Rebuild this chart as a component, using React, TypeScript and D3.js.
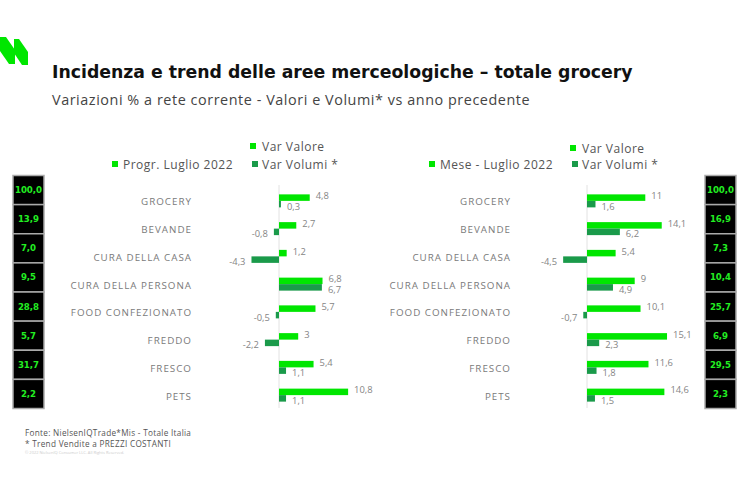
import * as d3 from "d3";
import { useEffect } from "react";

const categories = [
  "GROCERY",
  "BEVANDE",
  "CURA DELLA CASA",
  "CURA DELLA PERSONA",
  "FOOD CONFEZIONATO",
  "FREDDO",
  "FRESCO",
  "PETS",
];

// Progr. Luglio 2022
const progrValore = [4.8, 2.7, 1.2, 6.8, 5.7, 3, 5.4, 10.8];
const progrVolumi = [0.3, -0.8, -4.3, 6.7, -0.5, -2.2, 1.1, 1.1];
const progrQuota = [100.0, 13.9, 7.0, 9.5, 28.8, 5.7, 31.7, 2.2];

// Mese - Luglio 2022
const meseValore = [11, 14.1, 5.4, 9, 10.1, 15.1, 11.6, 14.6];
const meseVolumi = [1.6, 6.2, -4.5, 4.9, -0.7, 2.3, 1.8, 1.5];
const meseQuota = [100.0, 16.9, 7.3, 10.4, 25.7, 6.9, 29.5, 2.3];

const LIGHT = "#00e600";
const DARK = "#1a9a4a";
const FONT = "'Open Sans', 'DejaVu Sans', sans-serif";

const fmt = (v: number) => String(v).replace(".", ",");
const fmtQuota = (v: number) => v.toFixed(1).replace(".", ",");

const rows = d3.scaleBand<string>().domain(categories).range([187, 409]);
const cells = d3.scaleBand<string>().domain(categories).range([175.5, 408.5]);

type PanelProps = {
  x: d3.ScaleLinear<number, number>;
  labelX: number;
  boxX: number;
  valore: number[];
  volumi: number[];
  quota: number[];
  legend: string;
  legendX: number;
  legendSize: number;
  serieX: number;
  legendY: [number, number];
};

function Panel({ x, labelX, boxX, valore, volumi, quota, legend, legendX, legendSize, serieX, legendY }: PanelProps) {
  const bh = 6.5;
  const zero = x(0);
  return (
    <g>
      {/* legend */}
      <g fontFamily={FONT} fontSize={legendSize} fill="#555" letterSpacing={0.5}>
        <rect x={serieX - 12} y={legendY[0] - 3} width={6} height={6} fill={LIGHT} />
        <text x={serieX} y={legendY[0]} dominantBaseline="central">Var Valore</text>
        <rect x={legendX - 11} y={legendY[1] - 3} width={6} height={6} fill={LIGHT} />
        <text x={legendX} y={legendY[1]} dominantBaseline="central">{legend}</text>
        <rect x={serieX - 10} y={legendY[1] - 3} width={6} height={6} fill={DARK} />
        <text x={serieX} y={legendY[1]} dominantBaseline="central">Var Volumi *</text>
      </g>

      {/* quota boxes */}
      {categories.map((c, i) => (
        <g key={"q" + c}>
          <rect x={boxX} y={cells(c)} width={31} height={cells.bandwidth()} fill="#000" stroke="#aaa" strokeWidth={1.5} />
          <text
            x={boxX + 15.5}
            y={(cells(c) ?? 0) + cells.bandwidth() / 2}
            textAnchor="middle"
            dominantBaseline="central"
            fontFamily="'DejaVu Sans', sans-serif"
            fontWeight="bold"
            fontSize={8.6}
            fill="#22ee22"
          >
            {fmtQuota(quota[i])}
          </text>
        </g>
      ))}

      <line x1={zero} x2={zero} y1={185} y2={408} stroke="#e2e2e2" strokeWidth={1} />

      {categories.map((c, i) => {
        const cy = (rows(c) ?? 0) + rows.bandwidth() / 2;
        const v = valore[i];
        const w = volumi[i];
        return (
          <g key={c} fontFamily={FONT} fill="#858585">
            <text x={labelX} y={cy + 1} textAnchor="end" dominantBaseline="central" fontSize={9.8} letterSpacing={1} fill="#7a7a7a">
              {c}
            </text>
            <rect x={Math.min(x(v), zero)} y={cy - bh} width={Math.abs(x(v) - zero)} height={bh} fill={LIGHT} />
            <rect x={Math.min(x(w), zero)} y={cy} width={Math.max(Math.abs(x(w) - zero), 1.5)} height={bh} fill={DARK} />
            <text
              x={v >= 0 ? x(v) + 6 : x(v) - 6}
              y={cy - bh / 2 - 2}
              textAnchor={v >= 0 ? "start" : "end"}
              dominantBaseline="central"
              fontSize={9.4}
            >
              {fmt(v)}
            </text>
            <text
              x={w >= 0 ? Math.max(x(w), zero + 1.5) + 6 : x(w) - 6}
              y={cy + bh / 2 + 2}
              textAnchor={w >= 0 ? "start" : "end"}
              dominantBaseline="central"
              fontSize={9.4}
            >
              {fmt(w)}
            </text>
          </g>
        );
      })}
    </g>
  );
}

export default function App() {
  useEffect(() => {
    document.body.style.margin = "0";
  }, []);

  const xLeft = d3.scaleLinear().domain([-5, 12]).range([279 - 5 * 6.4, 279 + 12 * 6.4]);
  const xRight = d3.scaleLinear().domain([-5, 16]).range([587 - 5 * 5.3, 587 + 16 * 5.3]);

  return (
    <svg width={750} height={500} style={{ display: "block", background: "#fff" }}>
      {/* logo */}
      <polygon points="0,37 6,37 15,50 15,64 9,64 0,51" fill={LIGHT} />
      <polygon points="14,39 19,39 28,52 28,65 22,65 14,53" fill={LIGHT} />

      <text x={52} y={78} fontFamily="'DejaVu Sans', sans-serif" fontWeight="bold" fontSize={17.3} fill="#111">
        Incidenza e trend delle aree merceologiche – totale grocery
      </text>
      <text x={52} y={105} fontFamily={FONT} fontSize={14.4} letterSpacing={0.55} fill="#444">
        Variazioni % a rete corrente - Valori e Volumi* vs anno precedente
      </text>

      <Panel
        x={xLeft}
        labelX={192}
        boxX={13}
        valore={progrValore}
        volumi={progrVolumi}
        quota={progrQuota}
        legend="Progr. Luglio 2022"
        legendX={123}
        legendSize={12}
        serieX={262}
        legendY={[146, 164]}
      />
      <Panel
        x={xRight}
        labelX={511}
        boxX={705}
        valore={meseValore}
        volumi={meseVolumi}
        quota={meseQuota}
        legend="Mese - Luglio 2022"
        legendX={440}
        legendSize={12}
        serieX={582}
        legendY={[148, 164]}
      />

      <g fontFamily={FONT} fill="#555" fontSize={8.2} letterSpacing={0.3}>
        <text x={25} y={436}>Fonte: NielsenIQTrade*Mis - Totale Italia</text>
        <text x={25} y={447}>* Trend Vendite a PREZZI COSTANTI</text>
      </g>
      <text x={25} y={454} fontFamily={FONT} fill="#ccc" fontSize={4}>
        © 2022 NielsenIQ Consumer LLC. All Rights Reserved.
      </text>
    </svg>
  );
}
